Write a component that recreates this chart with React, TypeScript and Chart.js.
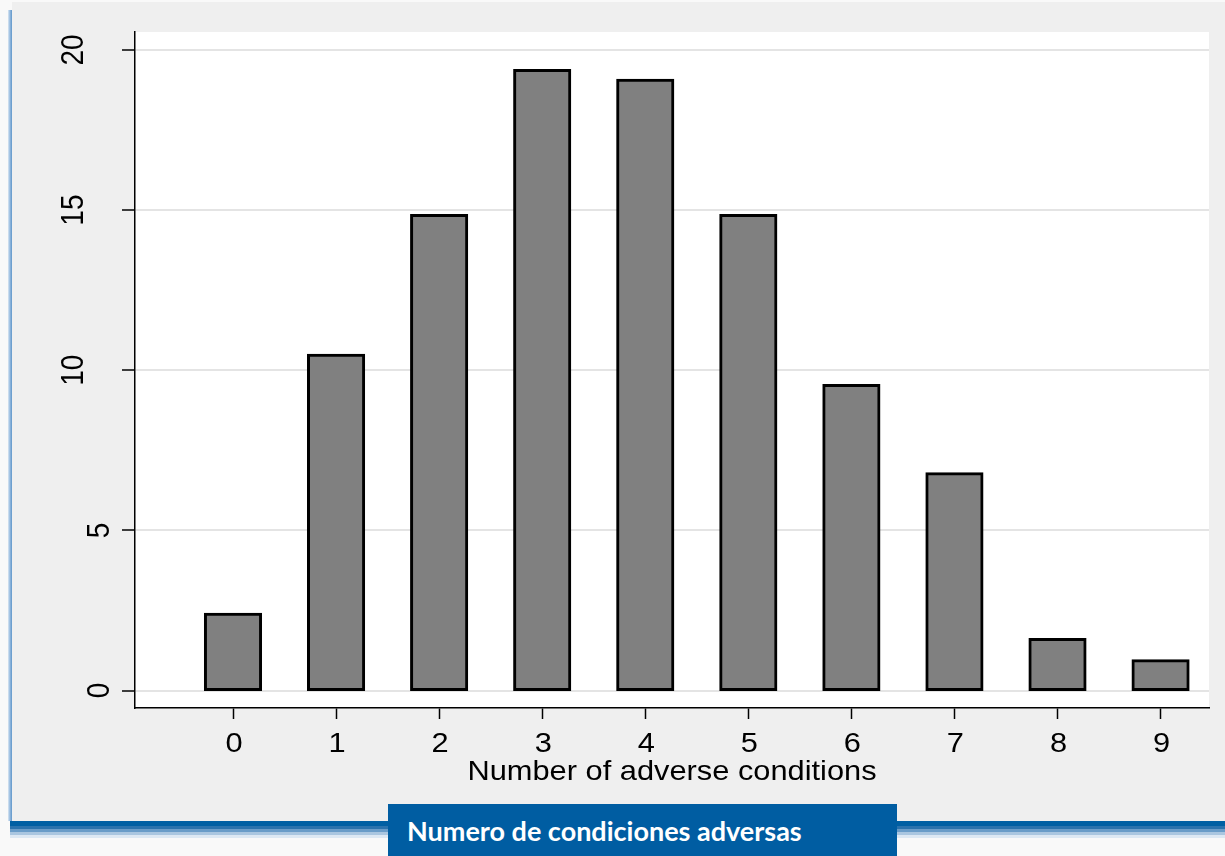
import React, { useEffect, useRef } from "react";
import { Chart, registerables } from "chart.js";

Chart.register(...registerables);

// ---- data ----
const categories: number[] = [0, 1, 2, 3, 4, 5, 6, 7, 8, 9];
const percentages: number[] = [2.38, 10.47, 14.83, 19.36, 19.05, 14.83, 9.52, 6.77, 1.59, 0.93];
const xTickValues: number[] = [0, 1, 2, 3, 4, 5, 6, 7, 8, 9];
const xTickLabels: string[] = ["0", "1", "2", "3", "4", "5", "6", "7", "8", "9"];
const yTickValues: number[] = [0, 5, 10, 15, 20];
const yTickLabels: string[] = ["0", "5", "10", "15", "20"];
const xAxisTitle = "Number of adverse conditions";
const captionText = "Numero de condiciones adversas";

const FONT = '"Liberation Sans", Arial, sans-serif';
const FS = 28;
const SX = 1.1;

const bgPlugin = {
  id: "plotBg",
  beforeDraw(chart: any) {
    const { ctx, chartArea } = chart;
    ctx.save();
    ctx.fillStyle = "#ffffff";
    ctx.fillRect(chartArea.left, chartArea.top, chartArea.right - chartArea.left, chartArea.bottom - chartArea.top);
    ctx.restore();
  },
};

const textPlugin = {
  id: "stataText",
  afterDraw(chart: any) {
    const { ctx, chartArea } = chart;
    const xs = chart.scales.x;
    const ys = chart.scales.y;
    ctx.save();
    ctx.fillStyle = "#000";
    ctx.font = `${FS}px ${FONT}`;
    ctx.textAlign = "center";
    ctx.textBaseline = "alphabetic";
    xTickValues.forEach((v, i) => {
      const px = xs.getPixelForValue(v);
      ctx.save();
      ctx.translate(px + 1, chartArea.bottom + 44);
      ctx.scale(SX, 1);
      ctx.fillText(xTickLabels[i], 0, 0);
      ctx.restore();
    });
    ctx.save();
    ctx.translate((chartArea.left + chartArea.right) / 2, chartArea.bottom + 72);
    ctx.scale(SX, 1);
    ctx.fillText(xAxisTitle, 0, 0);
    ctx.restore();
    yTickValues.forEach((v, i) => {
      const py = ys.getPixelForValue(v);
      const label = yTickLabels[i];
      const bx = chartArea.left - (label.length > 1 ? 52 : 26);
      ctx.save();
      ctx.translate(bx, py);
      ctx.scale(SX, 1);
      ctx.rotate(-Math.PI / 2);
      ctx.fillText(label, 0, 0);
      ctx.restore();
    });
    ctx.restore();
  },
};

function HistogramChart() {
  const ref = useRef<HTMLCanvasElement | null>(null);
  useEffect(() => {
    if (!ref.current) return;
    const chart = new Chart(ref.current, {
      type: "bar",
      data: {
        datasets: [
          {
            data: categories.map((c, i) => ({ x: c, y: percentages[i] })),
            backgroundColor: "#808080",
            borderColor: "#000000",
            borderWidth: 3,
            borderSkipped: false,
            inflateAmount: 1.5,
            barPercentage: 0.535,
            categoryPercentage: 1,
          } as any,
        ],
      },
      options: {
        animation: false,
        responsive: false,
        maintainAspectRatio: false,
        layout: { padding: { left: 0, top: 32, right: 16, bottom: 69 } },
        plugins: { legend: { display: false }, tooltip: { enabled: false }, title: { display: false } },
        scales: {
          x: {
            type: "linear",
            min: -0.951,
            max: 9.47,
            offset: false,
            afterBuildTicks: (axis: any) => {
              axis.ticks = xTickValues.map((v) => ({ value: v }));
            },
            afterFit: (s: any) => {
              s.height = 79;
            },
            ticks: { display: false },
            grid: {
              offset: false,
              drawOnChartArea: false,
              drawTicks: true,
              tickLength: 11,
              tickColor: "#000",
              tickWidth: 1.5,
            },
            border: { display: true, color: "#000", width: 1.5 },
          },
          y: {
            type: "linear",
            min: -0.546,
            max: 20.56,
            afterBuildTicks: (axis: any) => {
              axis.ticks = yTickValues.map((v) => ({ value: v }));
            },
            afterFit: (s: any) => {
              s.width = 135;
            },
            ticks: { display: false },
            grid: {
              color: "#e4e4e4",
              lineWidth: 2,
              drawTicks: true,
              tickLength: 13,
              tickColor: "#000",
              tickWidth: 1.5,
            },
            border: { display: true, color: "#000", width: 1.5 },
          },
        },
      } as any,
      plugins: [bgPlugin, textPlugin],
    });
    return () => chart.destroy();
  }, []);
  return <canvas ref={ref} width={1225} height={856} style={{ position: "absolute", left: 0, top: 0, width: 1225, height: 856 }} />;
}

export default function App() {
  return (
    <div style={{ position: "fixed", left: 0, top: 0, width: 1225, height: 856, background: "#f9f9f9", overflow: "hidden" }}>
      <div style={{ position: "absolute", left: 12, top: 2, width: 1213, height: 819, background: "#efefef" }} />
      <div
        style={{
          position: "absolute",
          left: 8,
          top: 10,
          width: 4,
          height: 811,
          background: "linear-gradient(to right, #dbe7f3, #94b9de, #5f96c9)",
        }}
      />
      <div
        style={{
          position: "absolute",
          left: 10,
          top: 821,
          width: 1215,
          height: 17,
          background:
            "linear-gradient(to bottom, #005fa3 0px, #005fa3 5px, #2a72ad 5px, #2a72ad 8px, #6a9cc8 8px, #6a9cc8 11px, #aac6e0 11px, #aac6e0 14px, #dde8f3 14px, #dde8f3 17px)",
        }}
      />
      <HistogramChart />
      <div
        style={{
          position: "absolute",
          left: 388,
          top: 804,
          width: 509,
          height: 52,
          background: "#005da2",
          zIndex: 2,
        }}
      >
        <span
          style={{
            position: "absolute",
            left: 19,
            top: 12,
            color: "#ffffff",
            fontFamily: "Lato, 'Open Sans', sans-serif",
            fontWeight: 700,
            fontSize: 27,
            lineHeight: "30px",
            whiteSpace: "nowrap",
          }}
        >
          {captionText}
        </span>
      </div>
    </div>
  );
}
